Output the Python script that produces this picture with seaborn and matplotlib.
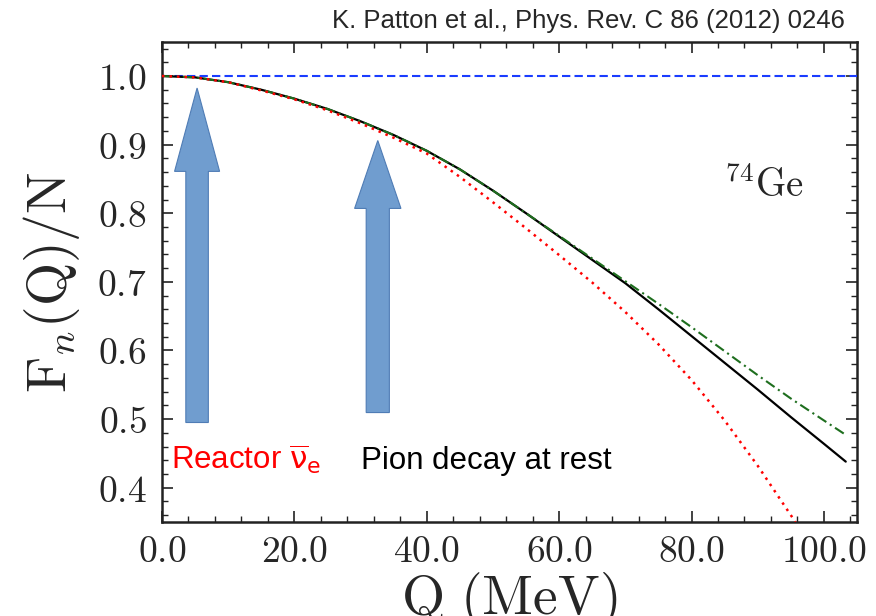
import numpy as np
import pandas as pd
import matplotlib
matplotlib.use("Agg")
import matplotlib.pyplot as plt
import seaborn as sns
from matplotlib.patches import FancyArrow

# ---------------- data ----------------
q_black = [0, 5, 10, 15, 20, 25, 30, 35, 40, 45, 50, 55, 60, 65, 70, 75, 80, 85, 90, 95, 100, 103.3]
f_black = [1.000, 0.998, 0.991, 0.980, 0.967, 0.952, 0.934, 0.914, 0.891, 0.864, 0.833, 0.800,
           0.766, 0.732, 0.698, 0.660, 0.621, 0.582, 0.543, 0.503, 0.464, 0.438]

q_green = [0, 5, 10, 15, 20, 25, 30, 35, 40, 45, 50, 55, 60, 65, 70, 75, 80, 85, 90, 95, 100, 103.3]
f_green = [1.000, 0.998, 0.991, 0.980, 0.967, 0.952, 0.934, 0.914, 0.891, 0.864, 0.833, 0.800,
           0.767, 0.734, 0.701, 0.668, 0.634, 0.599, 0.564, 0.530, 0.498, 0.477]

q_red = [0, 5, 10, 15, 20, 25, 30, 35, 40, 45, 50, 55, 60, 65, 70, 75, 80, 85, 90, 95, 95.7]
f_red = [1.000, 0.998, 0.991, 0.979, 0.966, 0.950, 0.931, 0.910, 0.887, 0.853, 0.816, 0.778,
         0.739, 0.699, 0.656, 0.609, 0.557, 0.498, 0.432, 0.360, 0.350]

q_unity = [0, 105]
f_unity = [1.0, 1.0]

xticks = [0, 20, 40, 60, 80, 100]
xtick_labels = ["0.0", "20.0", "40.0", "60.0", "80.0", "100.0"]
yticks = [0.4, 0.5, 0.6, 0.7, 0.8, 0.9, 1.0]
ytick_labels = ["0.4", "0.5", "0.6", "0.7", "0.8", "0.9", "1.0"]

# arrows: (center Q, base F, tip F, shaft width, head width, head length)
arrow_q = [5.3, 32.6]
arrow_base = [0.495, 0.5095]
arrow_tip = [0.9825, 0.906]
arrow_shaft_w = [3.4, 3.5]
arrow_head_w = [6.8, 7.0]
arrow_head_l = [0.1215, 0.099]

# ---------------- style ----------------
sns.set_theme(style="ticks")
plt.rcParams["font.family"] = ["Liberation Sans", "DejaVu Sans"]
plt.rcParams["mathtext.fontset"] = "cm"

fig = plt.figure(figsize=(8.76, 6.16), dpi=100)
ax = fig.add_axes([162 / 876, 1 - 522 / 616, (857 - 162) / 876, (522 - 41.7) / 616])

df_black = pd.DataFrame({"Q": q_black, "F": f_black})
df_green = pd.DataFrame({"Q": q_green, "F": f_green})
df_red = pd.DataFrame({"Q": q_red, "F": f_red})
df_unity = pd.DataFrame({"Q": q_unity, "F": f_unity})

sns.lineplot(data=df_unity, x="Q", y="F", ax=ax, color="#1a3cff", lw=1.5,
             linestyle=(0, (4, 2)), zorder=3)
sns.lineplot(data=df_black, x="Q", y="F", ax=ax, color="black", lw=1.6, zorder=4)
sns.lineplot(data=df_green, x="Q", y="F", ax=ax, color="#1e6e1e", lw=1.5,
             linestyle=(0, (5, 2, 1, 2)), zorder=5)
sns.lineplot(data=df_red, x="Q", y="F", ax=ax, color="red", lw=1.8,
             linestyle=(0, (1, 2)), zorder=6)

for qc, b, t, sw, hw, hl in zip(arrow_q, arrow_base, arrow_tip, arrow_shaft_w, arrow_head_w, arrow_head_l):
    ar = FancyArrow(qc, b, 0, t - b, width=sw, head_width=hw, head_length=hl,
                    length_includes_head=True, facecolor="#709dcf", edgecolor="#4f7cb5",
                    lw=0.8, zorder=2)
    ax.add_patch(ar)

ax.set_xlim(0, 105)
ax.set_ylim(0.35, 1.05)
ax.set_xticks(xticks)
ax.set_xticklabels([f"${t}$" for t in xtick_labels])
ax.set_yticks(yticks)
ax.set_yticklabels([f"${t}$" for t in ytick_labels])
ax.set_xticks(np.arange(0, 105, 4), minor=True)
ax.set_yticks(np.arange(0.36, 1.05, 0.02), minor=True)
ax.tick_params(which="both", direction="in", top=True, right=True, color="#222222")
ax.tick_params(which="major", length=8, width=1.2, labelsize=27)
ax.tick_params(which="minor", length=4.5, width=1.0)
ax.tick_params(axis="x", which="major", pad=9)
ax.tick_params(axis="y", which="major", pad=11)
for s in ax.spines.values():
    s.set_linewidth(1.8)
    s.set_color("#222222")

ax.set_xlabel(r"$\mathrm{Q\ (MeV)}$", fontsize=40, labelpad=0)
ax.set_ylabel(r"$\mathrm{F}_n\mathrm{(Q)/N}$", fontsize=40)
ax.yaxis.set_label_coords(-0.115, 0.5)

ax.text(91, 0.84, r"$^{74}\mathrm{Ge}$", fontsize=28, ha="center", va="center")
ax.text(1.4, 0.427, r"Reactor $\overline{\mathrm{\nu}}_{\mathrm{e}}$", color="red", fontsize=22.5,
        ha="left", va="baseline", math_fontfamily="dejavusans")
ax.text(30.0, 0.427, "Pion decay at rest", color="black", fontsize=22.5,
        ha="left", va="baseline")

fig.text(845 / 876, 1 - 28 / 616, "K. Patton et al., Phys. Rev. C 86 (2012) 0246",
         fontsize=18.5, ha="right", va="baseline",
         family=["Liberation Sans Narrow", "Liberation Sans", "DejaVu Sans"])

fig.savefig("out.png", dpi=100)
